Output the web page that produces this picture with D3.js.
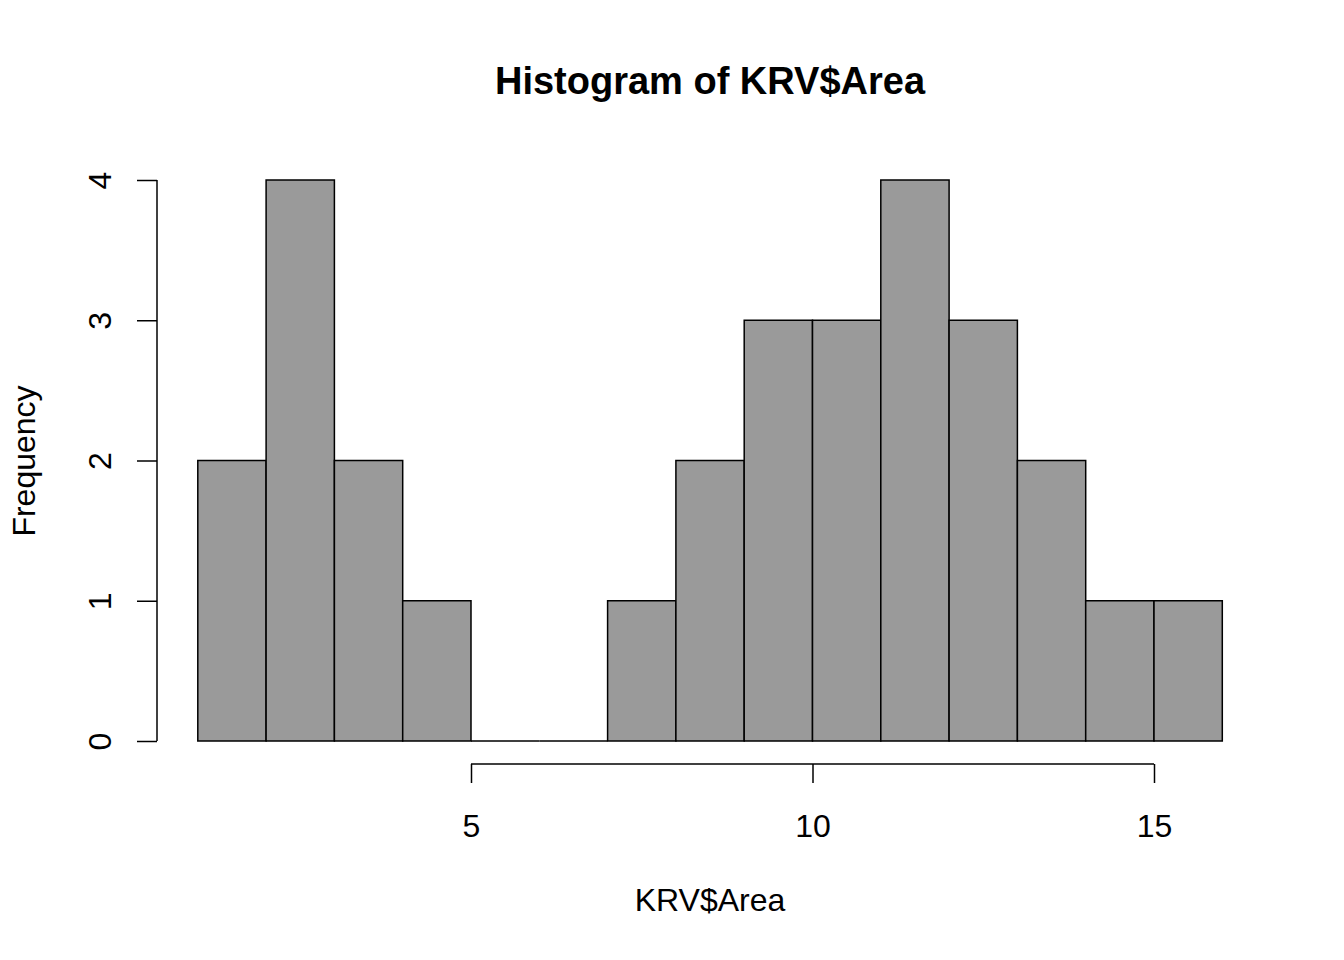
<!DOCTYPE html>
<html>
<head>
<meta charset="utf-8">
<script src="https://cdn.jsdelivr.net/npm/d3@7"></script>
<style>
  body { margin: 0; background: #fff; }
  text { font-family: "Liberation Sans", Arial, sans-serif; }
</style>
</head>
<body>
<svg id="chart" width="1344" height="960"></svg>
<script>
// histogram bins (width 1) and counts
const binStarts = [1, 2, 3, 4, 5, 6, 7, 8, 9, 10, 11, 12, 13, 14, 15];
const counts    = [2, 4, 2, 1, 0, 0, 1, 2, 3, 3, 4, 3, 2, 1, 1];
const xTicks = [5, 10, 15];
const yTicks = [0, 1, 2, 3, 4];

const svg = d3.select("#chart");

const x = d3.scaleLinear().domain([5, 15]).range([471, 1154]);
const y = d3.scaleLinear().domain([0, 4]).range([741, 180]);

// bars drawn as closed paths so empty bins still show their baseline
svg.append("g").selectAll("path")
  .data(binStarts.map((s, i) => ({s: s, n: counts[i]})))
  .join("path")
  .attr("d", d => "M" + x(d.s) + "," + y(0) + "V" + y(d.n) + "H" + x(d.s + 1) + "V" + y(0) + "Z")
  .attr("fill", "#9a9a9a")
  .attr("stroke", "#000")
  .attr("stroke-width", 1.5);

// x axis, offset below plot like base R
const xAxis = d3.axisBottom(x).tickValues(xTicks).tickSize(19).tickFormat(d3.format("d")).tickSizeOuter(0);
const gx = svg.append("g").attr("transform", "translate(0,764)").call(xAxis);
gx.select(".domain").attr("stroke", "#000").attr("stroke-width", 1.5)
  .attr("d", "M" + x(5) + ",0H" + x(15));
gx.selectAll(".tick line").attr("stroke", "#000").attr("stroke-width", 1.5);
gx.selectAll(".tick text")
  .attr("font-size", 32).attr("fill", "#000")
  .attr("font-family", "Liberation Sans, Arial, sans-serif")
  .attr("y", 73).attr("dy", null);

// y axis, labels rotated
const yAxis = d3.axisLeft(y).tickValues(yTicks).tickSize(20).tickFormat(d3.format("d")).tickSizeOuter(0);
const gy = svg.append("g").attr("transform", "translate(157,0)").call(yAxis);
gy.select(".domain").attr("stroke", "#000").attr("stroke-width", 1.5)
  .attr("d", "M0," + y(0) + "V" + y(4));
gy.selectAll(".tick line").attr("stroke", "#000").attr("stroke-width", 1.5);
gy.selectAll(".tick text")
  .attr("font-size", 32).attr("fill", "#000")
  .attr("font-family", "Liberation Sans, Arial, sans-serif")
  .attr("x", null).attr("dy", null)
  .attr("text-anchor", "middle")
  .attr("transform", "translate(-46,0) rotate(-90)");

// title and axis labels
svg.append("text").attr("x", 710).attr("y", 94)
  .attr("text-anchor", "middle").attr("font-size", 38).attr("font-weight", "bold")
  .text("Histogram of KRV$Area");
svg.append("text").attr("x", 710).attr("y", 911)
  .attr("text-anchor", "middle").attr("font-size", 32)
  .text("KRV$Area");
svg.append("text").attr("transform", "translate(35,461) rotate(-90)")
  .attr("text-anchor", "middle").attr("font-size", 32)
  .text("Frequency");
</script>
</body>
</html>
